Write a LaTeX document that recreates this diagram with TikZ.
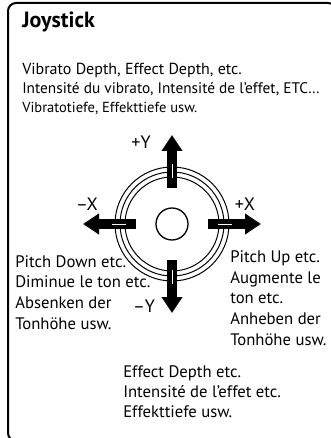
\documentclass[tikz,border=0pt]{standalone}
\usepackage{fontspec}
\setmainfont{PT Sans}
\usetikzlibrary{arrows.meta}
\begin{document}
\begin{tikzpicture}[x=0.75pt,y=-0.75pt]
	\useasboundingbox (0,0) rectangle (331,438);
	\clip (0,0) rectangle (331,438);
	\draw[black,line width=1.5pt,rounded corners=6pt] (8,3) rectangle (336,441);
	\node[inner sep=0pt,anchor=base west,font=\bfseries\fontsize{16.5}{18}\selectfont](title) at (22,28){Joystick};
	\node[inner sep=0pt,anchor=base west,font=\fontsize{12}{14}\selectfont](vib) at (22,75){Vibrato Depth, Effect Depth, etc.};
	\node[inner sep=0pt,anchor=base west,font=\fontsize{11.5}{13}\selectfont](vibfr) at (22,94){Intensité du vibrato, Intensité de l’effet, ETC…};
	\node[inner sep=0pt,anchor=base west,font=\fontsize{10.9}{12}\selectfont](vibde) at (22,113){Vibratotiefe, Effekttiefe usw.};
	\draw[black,line width=0.75pt](172,224) circle[radius=35.25pt];
	\draw[black,line width=0.75pt](172,224) circle[radius=39pt];
	\draw[black,line width=0.75pt](172,224) circle[radius=42.75pt];
	\node[circle,draw=black,line width=1pt,inner sep=0pt,minimum size=24pt](knob) at (172,224){};
	\coordinate(n0) at (172,188);
	\coordinate(n1) at (172,135);
	\coordinate(s0) at (172,260);
	\coordinate(s1) at (172,313);
	\coordinate(e0) at (208,224);
	\coordinate(e1) at (261,224);
	\coordinate(w0) at (136,224);
	\coordinate(w1) at (83,224);
	\draw[black,line width=8pt,-{Triangle[width=15pt,length=12pt]}](n0)--(n1);
	\draw[black,line width=8pt,-{Triangle[width=15pt,length=12pt]}](s0)--(s1);
	\draw[black,line width=8pt,-{Triangle[width=15pt,length=12pt]}](e0)--(e1);
	\draw[black,line width=8pt,-{Triangle[width=15pt,length=12pt]}](w0)--(w1);
	\draw[white,line width=0.5pt](172,178)--(172,164);
	\draw[white,line width=0.5pt](172,270)--(172,284);
	\draw[white,line width=0.5pt](218,224)--(232,224);
	\draw[white,line width=0.5pt](126,224)--(112,224);
	\node[inner sep=0pt,font=\fontsize{13.5}{15}\selectfont](py) at (141,142){+Y};
	\node[inner sep=0pt,font=\fontsize{13.5}{15}\selectfont](my) at (144,306){–Y};
	\node[inner sep=0pt,font=\fontsize{13.5}{15}\selectfont](px) at (245,204){+X};
	\node[inner sep=0pt,font=\fontsize{13.5}{15}\selectfont](mx) at (87,204){–X};
	\node[inner sep=0pt,anchor=base west,align=left,font=\fontsize{12.5}{15.5}\selectfont](down) at (15,329){Pitch Down etc.\\Diminue le ton etc.\\Absenken der\\Tonhöhe usw.};
	\node[inner sep=0pt,anchor=base west,align=left,font=\fontsize{12.5}{15.5}\selectfont](up) at (230,345){Pitch Up etc.\\Augmente le\\ton etc.\\Anheben der\\Tonhöhe usw.};
	\node[inner sep=0pt,anchor=base west,align=left,font=\fontsize{12.5}{15}\selectfont](depth) at (123,417){Effect Depth etc.\\Intensité de l’effet etc.\\Effekttiefe usw.};
\end{tikzpicture}
\end{document}
